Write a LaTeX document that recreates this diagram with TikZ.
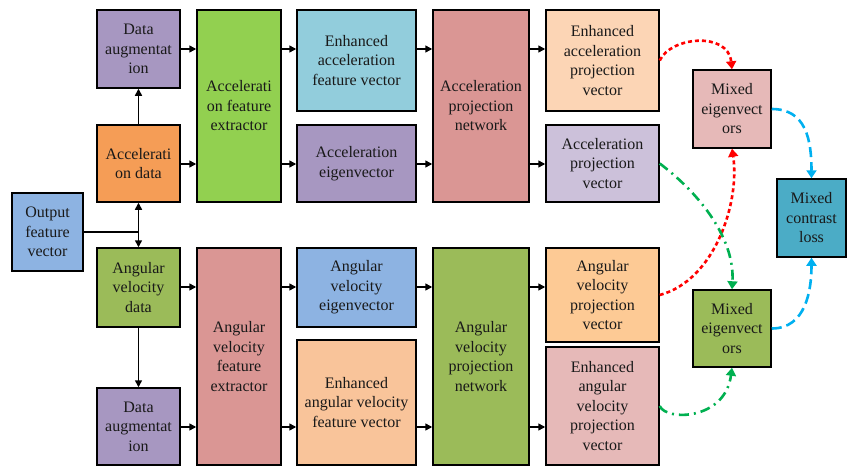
\documentclass[tikz,border=0pt]{standalone}
\usepackage{fontspec}
\setmainfont{Liberation Serif}
\usetikzlibrary{arrows.meta}

\definecolor{cPurple}{HTML}{A797C1}
\definecolor{cOrange}{HTML}{F59D56}
\definecolor{cLime}{HTML}{92D050}
\definecolor{cCyan}{HTML}{92CDDC}
\definecolor{cRose}{HTML}{DA9694}
\definecolor{cPeach}{HTML}{FCD5B5}
\definecolor{cLilac}{HTML}{CCC1DA}
\definecolor{cPink}{HTML}{E6B9B8}
\definecolor{cTeal}{HTML}{4BACC6}
\definecolor{cSky}{HTML}{8DB3E2}
\definecolor{cOlive}{HTML}{9BBB59}
\definecolor{cTan}{HTML}{F9C49A}
\definecolor{cApricot}{HTML}{FDCA95}
\definecolor{cRed}{HTML}{FF0000}
\definecolor{cGreen}{HTML}{00B050}
\definecolor{cBlue}{HTML}{00B0F0}

\tikzset{
  blk/.style={draw=black, line width=1.5pt, align=center, inner sep=0pt,
    font=\fontsize{16}{19.5}\selectfont, text=black!90},
  flow/.style={line width=1.5pt, -{Triangle[length=7pt,width=7pt]}},
  curvy/.style={line width=2.6pt, -{Triangle[length=8pt,width=10pt]}},
  redline/.style={curvy, cRed, dash pattern=on 4pt off 3pt},
  greenline/.style={curvy, cGreen, dash pattern=on 10pt off 5pt on 2pt off 5pt},
  blueline/.style={curvy, cBlue, dash pattern=on 10pt off 5pt},
}

\begin{document}
\begin{tikzpicture}[x=1pt, y=-1pt]
\useasboundingbox (0,0) rectangle (847,466);

% --- acceleration branch ---
\node[blk, fill=cPurple, minimum width=83, minimum height=78] (augA) at (138.5,49) {Data\\augmentat\\ion};
\node[blk, fill=cOrange, minimum width=83, minimum height=77] (accdata) at (138.5,163.5) {Accelerati\\on data};
\node[blk, fill=cLime, minimum width=84, minimum height=192] (accext) at (239,106) {Accelerati\\on feature\\extractor};
\node[blk, fill=cCyan, minimum width=119, minimum height=101] (accfv) at (356.5,60.5) {Enhanced\\acceleration\\feature vector};
\node[blk, fill=cPurple, minimum width=119, minimum height=77] (acceig) at (356.5,163.5) {Acceleration\\eigenvector};
\node[blk, fill=cRose, minimum width=96, minimum height=192] (accnet) at (481,106) {Acceleration\\projection\\network};
\node[blk, fill=cPeach, minimum width=113, minimum height=101] (accepv) at (602.5,60.5) {Enhanced\\acceleration\\projection\\vector};
\node[blk, fill=cLilac, minimum width=113, minimum height=77] (accpv) at (602.5,163.5) {Acceleration\\projection\\vector};
\node[blk, fill=cPink, minimum width=78, minimum height=78] (mixA) at (732,109) {Mixed\\eigenvect\\ors};

% --- shared input and loss ---
\node[blk, fill=cSky, minimum width=71, minimum height=78] (outfv) at (47.5,232) {Output\\feature\\vector};
\node[blk, fill=cTeal, minimum width=69, minimum height=78] (loss) at (811.5,218) {Mixed\\contrast\\loss};

% --- angular velocity branch ---
\node[blk, fill=cOlive, minimum width=83, minimum height=79] (angdata) at (138.5,287.5) {Angular\\velocity\\data};
\node[blk, fill=cPurple, minimum width=83, minimum height=77] (augB) at (138.5,426.5) {Data\\augmentat\\ion};
\node[blk, fill=cRose, minimum width=84, minimum height=217] (angext) at (239,356.5) {Angular\\velocity\\feature\\extractor};
\node[blk, fill=cSky, minimum width=119, minimum height=79] (angeig) at (356.5,287.5) {Angular\\velocity\\eigenvector};
\node[blk, fill=cTan, minimum width=119, minimum height=125] (angfv) at (356.5,402.5) {Enhanced\\angular velocity\\feature vector};
\node[blk, fill=cOlive, minimum width=96, minimum height=217] (angnet) at (481,356.5) {Angular\\velocity\\projection\\network};
\node[blk, fill=cApricot, minimum width=113, minimum height=94] (angpv) at (602.5,295) {Angular\\velocity\\projection\\vector};
\node[blk, fill=cPink, minimum width=113, minimum height=118] (angepv) at (602.5,406) {Enhanced\\angular\\velocity\\projection\\vector};
\node[blk, fill=cOlive, minimum width=78, minimum height=77] (mixB) at (732,328.5) {Mixed\\eigenvect\\ors};

% row heights of the straight arrows
\coordinate (r1) at (0,49);
\coordinate (r2) at (0,164);
\coordinate (r3) at (0,287);
\coordinate (r4) at (0,427);
\coordinate (split) at (138.5,232);

% input split
\draw[line width=1.5pt] (outfv.east |- split) -- (split);
\draw[flow] (split) -- (accdata.south);
\draw[flow] (split) -- (angdata.north);
\draw[flow] (accdata.north) -- (augA.south);
\draw[flow] (angdata.south) -- (augB.north);

% acceleration rows
\draw[flow] (augA.east |- r1) -- (accext.west |- r1);
\draw[flow] (accdata.east |- r2) -- (accext.west |- r2);
\draw[flow] (accext.east |- r1) -- (accfv.west |- r1);
\draw[flow] (accext.east |- r2) -- (acceig.west |- r2);
\draw[flow] (accfv.east |- r1) -- (accnet.west |- r1);
\draw[flow] (acceig.east |- r2) -- (accnet.west |- r2);
\draw[flow] (accnet.east |- r1) -- (accepv.west |- r1);
\draw[flow] (accnet.east |- r2) -- (accpv.west |- r2);

% angular velocity rows
\draw[flow] (angdata.east |- r3) -- (angext.west |- r3);
\draw[flow] (augB.east |- r4) -- (angext.west |- r4);
\draw[flow] (angext.east |- r3) -- (angeig.west |- r3);
\draw[flow] (angext.east |- r4) -- (angfv.west |- r4);
\draw[flow] (angeig.east |- r3) -- (angnet.west |- r3);
\draw[flow] (angfv.east |- r4) -- (angnet.west |- r4);
\draw[flow] (angnet.east |- r3) -- (angpv.west |- r3);
\draw[flow] (angnet.east |- r4) -- (angepv.west |- r4);

% mixing connectors
\draw[redline] (accepv.east) .. controls +(11,-24) and +(-4,-38) .. (mixA.north);
\draw[redline] (angpv.east) .. controls +(56,-15) and +(8,52) .. (mixA.south);
\draw[greenline] (accpv.east) .. controls +(41,31) and +(3,-50) .. (mixB.north);
\draw[greenline] (angepv.east) .. controls +(6,15) and +(-7,53) .. (mixB.south);
\draw[blueline] (mixA.east) .. controls +(34,0) and +(0,-39) .. (loss.north);
\draw[blueline] (mixB.east) .. controls +(34,0) and +(0,33) .. (loss.south);
\end{tikzpicture}
\end{document}
